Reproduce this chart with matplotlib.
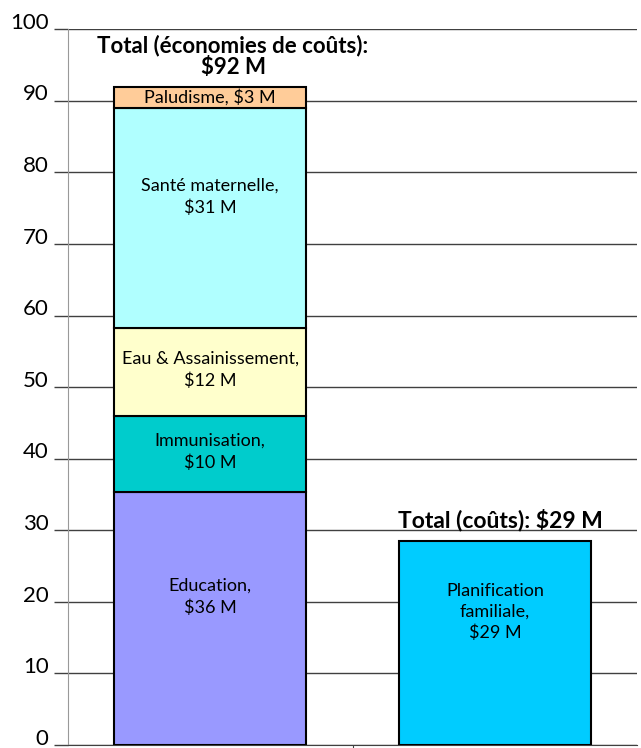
import numpy as np
import matplotlib.pyplot as plt
import matplotlib.transforms as mtransforms

plt.rcParams['font.family'] = ['Lato', 'DejaVu Sans']

# data
categories = ["Economies", "Coûts"]
seg_names = ["Education,\n$36 M", "Immunisation,\n$10 M", "Eau & Assainissement,\n$12 M",
             "Santé maternelle,\n$31 M", "Paludisme, $3 M"]
seg_values = [35.4, 10.6, 12.3, 30.7, 2.9]
seg_colors = ["#9999FF", "#00CCCC", "#FFFFCC", "#B0FFFF", "#FFCC99"]
cost_name = "Planification\nfamiliale,\n$29 M"
cost_value = 28.5
cost_color = "#00CCFF"
total_savings = "Total (économies de coûts):\n$92 M"
total_cost = "Total (coûts): $29 M"

fig = plt.figure(figsize=(6.41, 7.48), dpi=100)
ax = fig.add_axes([0.106, 0.004, 0.888, 0.957])

width = 0.676
bottom = 0
label_shift = [3.0, 0.3, 0.3, 2.9, 0.0]
for v, c, n, s in zip(seg_values, seg_colors, seg_names, label_shift):
    ax.bar(0, v, width, bottom=bottom, color=c, edgecolor="black", linewidth=1.5, zorder=3)
    ax.text(0, bottom + v / 2 + s, n, ha="center", va="center", fontsize=13,
            linespacing=1.45, zorder=4)
    bottom += v

ax.bar(1, cost_value, width, color=cost_color, edgecolor="black", linewidth=1.5, zorder=3)
ax.text(1, cost_value / 2 + 4.3, cost_name, ha="center", va="center", fontsize=13,
        linespacing=1.35, zorder=4)

ax.text(0.08, bottom + 1.3, total_savings, ha="center", va="bottom", fontsize=16,
        fontweight="bold", linespacing=1.0)
ax.text(1.02, cost_value + 1.4, total_cost, ha="center", va="bottom", fontsize=16.5,
        fontweight="bold")

ax.set_xlim(-0.5, 1.5)
ax.set_ylim(0, 100)
ax.set_yticks(np.arange(0, 101, 10))
ax.tick_params(axis="y", labelsize=16, length=10, width=1, color="#404040", pad=4)
ax.set_xticks([0.5])
ax.set_xticklabels([])
ax.tick_params(axis="x", length=6, color="#404040")
ax.yaxis.grid(True, color="#404040", linewidth=1, zorder=0)
ax.set_axisbelow(True)
for sp in ["top", "right"]:
    ax.spines[sp].set_visible(False)
ax.spines["left"].set_color("#999999")
ax.spines["bottom"].set_color("#404040")

# tick labels sit a little above their gridlines
shift = mtransforms.ScaledTranslation(0, 6 / 72, fig.dpi_scale_trans)
for lbl in ax.get_yticklabels():
    lbl.set_transform(lbl.get_transform() + shift)

fig.savefig("out.png", dpi=100)
